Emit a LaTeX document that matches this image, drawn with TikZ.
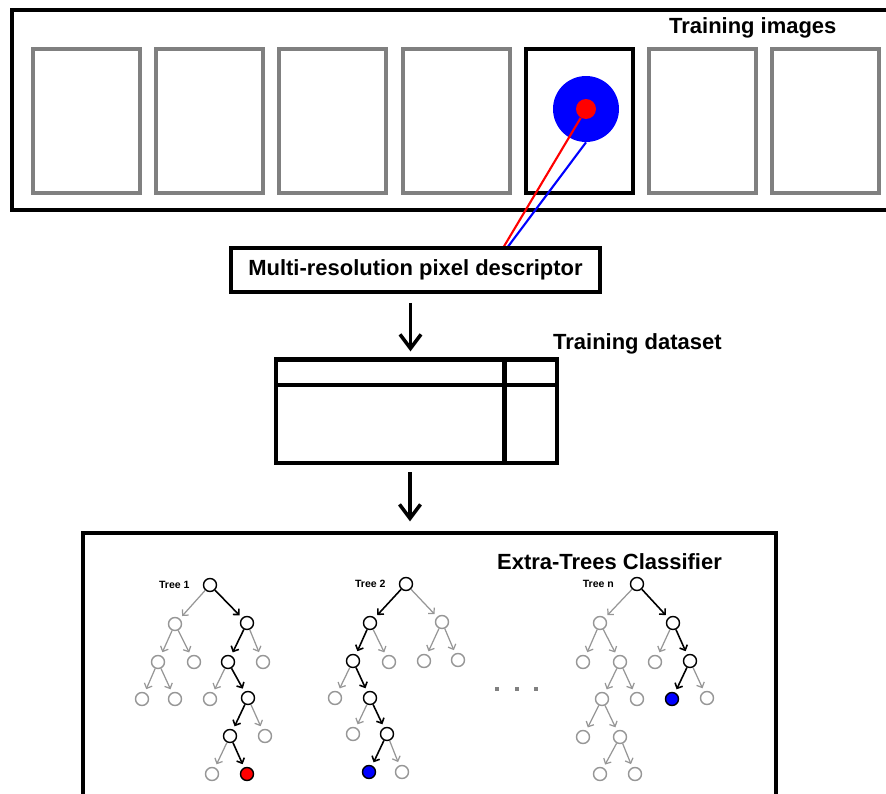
\documentclass[tikz,border=0pt]{standalone}
\usepackage{fontspec}
\setmainfont{Liberation Sans}
\usetikzlibrary{positioning,arrows.meta}

\definecolor{framegray}{RGB}{128,128,128}
\definecolor{treegray}{RGB}{150,150,150}
\definecolor{pixblue}{RGB}{0,0,255}
\definecolor{pixred}{RGB}{255,0,0}

\begin{document}
\begin{tikzpicture}[x=0.02cm, y=-0.02cm,
  font=\fontsize{12.5}{15}\selectfont\bfseries,
  box/.style={draw=black, line width=2.3pt, inner sep=0pt},
  imgframe/.style={draw=framegray, line width=2.3pt, minimum width=2.14cm, minimum height=2.88cm, inner sep=0pt},
  mainarrow/.style={line width=2pt, -{Straight Barb[length=8pt, width=12pt]}},
  tnode/.style={circle, draw=treegray, line width=0.8pt, minimum size=0.26cm, inner sep=0pt, fill=white},
  offpath/.style={},
  onpath/.style={draw=black},
  hitred/.style={draw=black, fill=pixred},
  hitblue/.style={draw=black, fill=pixblue},
  tedge/.style={draw=treegray, line width=0.7pt, -{Straight Barb[length=2.4pt, width=4.8pt]}, shorten >=2pt},
  kedge/.style={tedge, draw=black, line width=0.9pt},
  tlabel/.style={font=\fontsize{6}{7}\selectfont\bfseries}]

\clip (0,0) rectangle (886,794);

\node[box, minimum width=17.76cm, minimum height=4cm] (strip) at (456,110) {};
\node[anchor=west] (striplabel) at (663,28) {Training images};
\foreach \i in {1,2,3,4,6,7}
  \node[imgframe] (img\i) at ({86.5+123.2*(\i-1)},121) {};
\node[imgframe, draw=black] (img5) at (579.3,121) {};

\node[circle, fill=pixblue, minimum size=1.32cm, inner sep=0pt] (bluedisc) at (586,109) {};
\node[circle, fill=pixred, minimum size=0.4cm, inner sep=0pt] (reddot) at (586,109) {};

\coordinate (redfoot) at (503,248);
\coordinate (bluefoot) at (507,248);
\draw[pixblue, line width=1.2pt] (bluedisc.south) -- (bluefoot);
\draw[pixred, line width=1.2pt] (reddot) -- (redfoot);

\node[box, minimum width=7.4cm, minimum height=0.88cm] (desc) at (415.5,270) {Multi-resolution pixel descriptor};

\node[box, minimum width=5.62cm, minimum height=2.07cm] (dataset) at (416.5,411.25) {};
\draw[line width=2.3pt] (276,385) -- (557,385);
\draw[line width=2.3pt] (504.5,359.5) -- (504.5,463);
\node[anchor=west] (datalabel) at (547,344) {Training dataset};

\coordinate (arrtop) at ([xshift=-0.1cm]desc.south);
\draw[mainarrow, shorten <=5pt, shorten >=3.5pt] (arrtop) -- (arrtop |- dataset.north);

\node[box, minimum width=13.86cm, minimum height=5.72cm] (clf) at (429.5,676) {};
\node[anchor=west] (clflabel) at (491,562) {Extra-Trees Classifier};

\coordinate (arrmid) at ([xshift=-0.13cm]dataset.south);
\draw[mainarrow, shorten <=4pt, shorten >=5.5pt] (arrmid) -- (arrmid |- clf.north);

\foreach \n/\x/\y/\s in {a0/210/585/onpath, a1/175/624/offpath, a2/247/623/onpath,
    a3/158/662/offpath, a4/194/662/offpath, a5/228/662/onpath, a6/263/662/offpath,
    a7/142/699/offpath, a8/175/699/offpath, a9/210/699/offpath, a10/248/698/onpath,
    a11/230/736/onpath, a12/265/736/offpath, a13/212/774/offpath, a14/247/774/hitred}
  \node[tnode, \s] (\n) at (\x,\y) {};
\foreach \n/\x/\y/\s in {b0/406/584/onpath, b1/370/623/onpath, b2/442/622/offpath,
    b3/353/661/onpath, b4/389/662/offpath, b5/424/661/offpath, b6/458/660/offpath,
    b7/335/698/offpath, b8/370/698/onpath, b9/353/734/offpath, b10/387/734/onpath,
    b11/369/772/hitblue, b12/402/772/offpath}
  \node[tnode, \s] (\n) at (\x,\y) {};
\foreach \n/\x/\y/\s in {c0/637/584/onpath, c1/600/623/offpath, c2/673/623/onpath,
    c3/583/662/offpath, c4/620/662/offpath, c5/655/662/offpath, c6/690/661/onpath,
    c7/602/699/offpath, c8/637/699/offpath, c9/672/699/hitblue, c10/707/698/offpath,
    c11/583/737/offpath, c12/620/737/offpath, c13/600/774/offpath, c14/635/774/offpath}
  \node[tnode, \s] (\n) at (\x,\y) {};

\foreach \p/\c/\s in {a0/a1/tedge, a0/a2/kedge, a1/a3/tedge, a1/a4/tedge, a2/a5/kedge,
    a2/a6/tedge, a3/a7/tedge, a3/a8/tedge, a5/a9/tedge, a5/a10/kedge, a10/a11/kedge,
    a10/a12/tedge, a11/a13/tedge, a11/a14/kedge,
    b0/b1/kedge, b0/b2/tedge, b1/b3/kedge, b1/b4/tedge, b2/b5/tedge, b2/b6/tedge,
    b3/b7/tedge, b3/b8/kedge, b8/b9/tedge, b8/b10/kedge, b10/b11/kedge, b10/b12/tedge,
    c0/c1/tedge, c0/c2/kedge, c1/c3/tedge, c1/c4/tedge, c2/c5/tedge, c2/c6/kedge,
    c4/c7/tedge, c4/c8/tedge, c6/c9/kedge, c6/c10/tedge, c7/c11/tedge, c7/c12/tedge,
    c12/c13/tedge, c12/c14/tedge}
  \draw[\s] (\p) -- (\c);

\node[tlabel, left=4pt of a0] (tree1) {Tree 1};
\node[tlabel, left=4pt of b0] (tree2) {Tree 2};
\node[tlabel, left=5.5pt of c0] (treen) {Tree n};

\foreach \x in {497,517,536}
  \fill[framegray] (\x-2,687) rectangle (\x+2,691);
\end{tikzpicture}
\end{document}
